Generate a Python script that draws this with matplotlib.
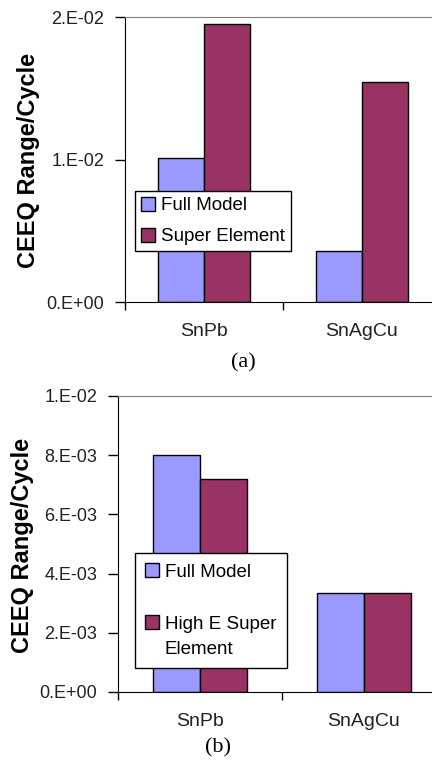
import matplotlib
matplotlib.use("Agg")
import matplotlib.pyplot as plt
import numpy as np

plt.rcParams['font.family'] = ['Liberation Sans', 'DejaVu Sans']

categories = ["SnPb", "SnAgCu"]

# Panel (a)
a_full = [0.0101, 0.00358]
a_super = [0.0195, 0.01546]
a_ticks = [0.0, 0.01, 0.02]
a_ticklabels = ["0.E+00", "1.E-02", "2.E-02"]
a_labels = ["Full Model", "Super Element"]

# Panel (b)
b_full = [0.0080, 0.00336]
b_super = [0.00718, 0.00336]
b_ticks = [0.0, 0.002, 0.004, 0.006, 0.008, 0.010]
b_ticklabels = ["0.E+00", "2.E-03", "4.E-03", "6.E-03", "8.E-03", "1.E-02"]
b_labels = ["Full Model", "High E Super\nElement"]

C_FULL = "#9999FF"
C_SUPER = "#993366"

W, H = 432, 768
fig = plt.figure(figsize=(W / 100, H / 100), dpi=100)


def px_axes(left, top, right, bottom):
    return fig.add_axes([left / W, 1 - bottom / H, (right - left) / W, (bottom - top) / H])


def draw(ax, full, sup, ticks, ticklabels, ymax, labels, leg_xy, labelspacing, ylab_xy,
         panel, panel_xy, handle_shift=0.0, borderpad=0.32, linespacing=1.2):
    x = np.arange(len(categories))
    bw = 0.288
    ax.bar(x - bw / 2, full, bw, color=C_FULL, edgecolor="black", linewidth=1.0, label=labels[0])
    ax.bar(x + bw / 2, sup, bw, color=C_SUPER, edgecolor="black", linewidth=1.0, label=labels[1])
    ax.set_xlim(-0.5, 1.5)
    ax.set_ylim(0, ymax)
    ax.set_yticks(ticks)
    ax.set_yticklabels(ticklabels)
    ax.tick_params(axis="y", direction="out", length=7, width=1, pad=8, labelsize=13, colors="black")
    ax.set_xticks([-0.5, 0.5, 1.5])
    ax.set_xticklabels(["", "", ""])
    ax.tick_params(axis="x", which="major", direction="out", length=6, width=1)
    ax.set_xticks(x, minor=True)
    ax.set_xticklabels(categories, minor=True)
    ax.tick_params(axis="x", which="minor", length=0, pad=15, labelsize=14)
    for lab in ax.get_yticklabels() + ax.get_xticklabels(minor=True):
        lab.set_color("#222222")
    ax.spines["right"].set_visible(False)
    ax.spines["top"].set_color("#808080")
    ax.spines["left"].set_color("black")
    ax.spines["bottom"].set_color("black")
    leg = ax.legend(loc="upper left", bbox_to_anchor=(leg_xy[0] / W, 1 - leg_xy[1] / H),
                    bbox_transform=fig.transFigure, fontsize=13.5, frameon=True, fancybox=False,
                    edgecolor="black", framealpha=1, handlelength=0.75, handleheight=0.75,
                    handletextpad=0.3, labelspacing=labelspacing, borderpad=borderpad,
                    borderaxespad=0)
    leg.get_frame().set_linewidth(1.0)
    for t in leg.get_texts():
        t.set_linespacing(linespacing)
    if handle_shift:
        p = leg.get_patches()[1]
        p.set_y(p.get_y() + handle_shift)
    fig.text(ylab_xy[0] / W, 1 - ylab_xy[1] / H, "CEEQ Range/Cycle", rotation=90,
             fontsize=17, fontweight="bold", ha="center", va="center")
    fig.text(panel_xy[0] / W, 1 - panel_xy[1] / H, panel, fontsize=16,
             family=["Liberation Serif", "DejaVu Serif"], ha="center", va="center")


ax1 = px_axes(125, 17, 441, 302)
draw(ax1, a_full, a_super, a_ticks, a_ticklabels, 0.02, a_labels, (135, 191), 0.72, (29, 160),
     "(a)", (243, 363))

ax2 = px_axes(118, 396, 446, 692)
draw(ax2, b_full, b_super, b_ticks, b_ticklabels, 0.010, b_labels, (135, 553), 1.9, (23, 545),
     "(b)", (218, 748), handle_shift=11.0, borderpad=0.55, linespacing=1.6)

fig.savefig("out.png", dpi=100)
